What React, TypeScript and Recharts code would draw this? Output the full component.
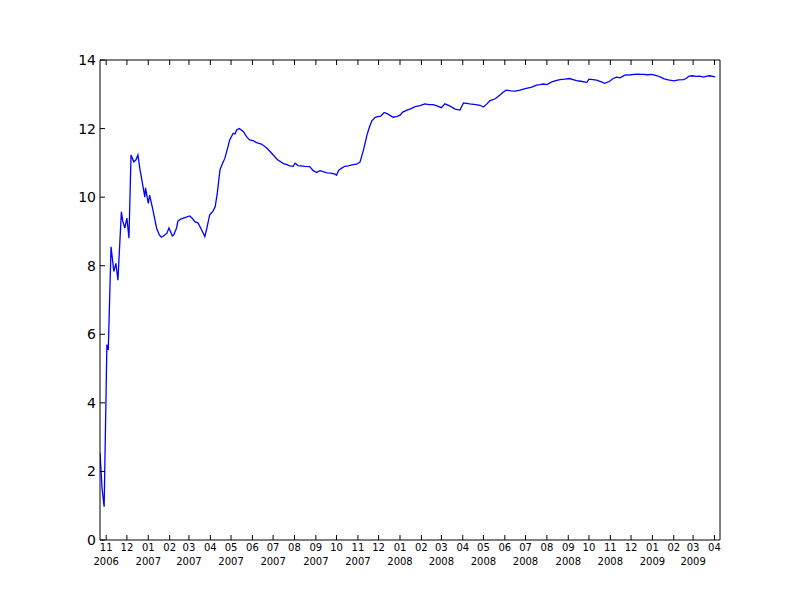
import React from "react";
import { LineChart, Line, XAxis, YAxis } from "recharts";

// day offsets counted from START_DATE, with the value read for that day
const START_DATE = "2006-10-23";
const END_DAY = 899;

const days = [
  0, 3, 6, 10, 12, 16, 18, 20, 23, 26, 31, 33, 36, 39, 41, 42, 45, 49, 52, 55,
  58, 62, 65, 66, 70, 72, 77, 82, 86, 89, 93, 97, 100, 105, 107, 111, 113, 117,
  123, 130, 133, 138, 142, 146, 152, 155, 159, 164, 167, 170, 174, 178, 181,
  186, 188, 193, 196, 198, 202, 208, 213, 217, 222, 227, 234, 241, 249, 257,
  266, 271, 275, 280, 283, 287, 292, 297, 304, 309, 314, 319, 329, 335, 341,
  343, 346, 350, 355, 360, 367, 372, 377, 382, 387, 390, 394, 399, 403, 407,
  412, 417, 425, 430, 435, 439, 445, 451, 457, 464, 471, 477, 483, 488, 495,
  500, 507, 515, 522, 527, 536, 545, 551, 556, 561, 565, 573, 580, 584, 589,
  596, 602, 609, 618, 625, 633, 638, 643, 648, 655, 661, 667, 674, 681, 686,
  691, 697, 706, 709, 715, 720, 726, 732, 739, 744, 749, 754, 761, 770, 778,
  787, 794, 800, 808, 813, 818, 824, 832, 839, 846, 850, 854, 859, 865, 870,
  875, 880, 884, 892,
];

const values = [
  2.55, 1.5, 0.97, 5.7, 5.54, 8.55, 8.2, 7.83, 8.07, 7.58, 9.57, 9.3, 9.1,
  9.39, 9.0, 8.8, 11.23, 11.03, 11.08, 11.23, 10.8, 10.35, 10.0, 10.27, 9.82,
  10.06, 9.6, 9.1, 8.9, 8.83, 8.88, 8.95, 9.1, 8.87, 8.9, 9.1, 9.3, 9.36, 9.4,
  9.45, 9.4, 9.28, 9.25, 9.1, 8.85, 9.1, 9.48, 9.6, 9.72, 10.1, 10.8, 11.0,
  11.13, 11.5, 11.67, 11.86, 11.85, 11.96, 12.0, 11.91, 11.75, 11.67, 11.65,
  11.59, 11.55, 11.45, 11.28, 11.1, 10.98, 10.95, 10.91, 10.9, 10.99, 10.92,
  10.91, 10.9, 10.89, 10.78, 10.72, 10.77, 10.71, 10.7, 10.67, 10.64, 10.78,
  10.84, 10.9, 10.91, 10.95, 10.96, 11.02, 11.37, 11.8, 12.0, 12.22, 12.33,
  12.35, 12.36, 12.47, 12.43, 12.33, 12.35, 12.39, 12.48, 12.54, 12.58, 12.64,
  12.67, 12.72, 12.7, 12.7, 12.67, 12.61, 12.72, 12.66, 12.57, 12.54, 12.75,
  12.72, 12.7, 12.68, 12.63, 12.72, 12.81, 12.87, 12.98, 13.05, 13.12, 13.1,
  13.09, 13.12, 13.17, 13.2, 13.27, 13.28, 13.3, 13.28, 13.36, 13.4, 13.43,
  13.44, 13.46, 13.43, 13.4, 13.38, 13.35, 13.44, 13.43, 13.41, 13.37, 13.32,
  13.38, 13.46, 13.5, 13.48, 13.56, 13.57, 13.59, 13.58, 13.57, 13.58, 13.54,
  13.5, 13.45, 13.42, 13.39, 13.42, 13.43, 13.46, 13.53, 13.54, 13.52, 13.53,
  13.5, 13.53, 13.54, 13.51,
];

const tickMonths = [
  "2006-11", "2006-12", "2007-01", "2007-02", "2007-03", "2007-04", "2007-05",
  "2007-06", "2007-07", "2007-08", "2007-09", "2007-10", "2007-11", "2007-12",
  "2008-01", "2008-02", "2008-03", "2008-04", "2008-05", "2008-06", "2008-07",
  "2008-08", "2008-09", "2008-10", "2008-11", "2008-12", "2009-01", "2009-02",
  "2009-03", "2009-04",
];

const yTicks = [0, 2, 4, 6, 8, 10, 12, 14];

const DAY = 86400000;
const START = Date.parse(START_DATE + "T00:00:00Z");
const FONT = "DejaVu Sans, sans-serif";
const TICK = 5;

const data = days.map((d, i) => ({ day: d, value: values[i] }));
const xTicks = tickMonths.map((m) => (Date.parse(m + "-01T00:00:00Z") - START) / DAY);

// bottom axis: inward tick mark, month and (odd months) year below
function MonthTick(props: any) {
  const { x, y, payload } = props;
  const date = new Date(START + payload.value * DAY);
  const month = date.getUTCMonth() + 1;
  const label = month < 10 ? "0" + month : String(month);
  return (
    <g>
      <line x1={x} x2={x} y1={y} y2={y - TICK} stroke="#000" />
      <text x={x} y={y + 11} textAnchor="middle" fontSize={10} fontFamily={FONT} fill="#000">
        <tspan x={x}>{label}</tspan>
        {month % 2 === 1 && (
          <tspan x={x} dy={14}>
            {date.getUTCFullYear()}
          </tspan>
        )}
      </text>
    </g>
  );
}

const TopTick = ({ x, y }: any) => <line x1={x} x2={x} y1={y} y2={y + TICK} stroke="#000" />;

function LeftTick(props: any) {
  const { x, y, payload } = props;
  return (
    <g>
      <line x1={x} x2={x + TICK} y1={y} y2={y} stroke="#000" />
      <text x={x - 4} y={y} dy="0.36em" textAnchor="end" fontSize={14} fontFamily={FONT} fill="#000">
        {payload.value}
      </text>
    </g>
  );
}

const RightTick = ({ x, y }: any) => <line x1={x} x2={x - TICK} y1={y} y2={y} stroke="#000" />;

export default function App() {
  return (
    <div style={{ position: "absolute", left: 0, top: 0, width: 800, height: 600, background: "#fff" }}>
      <LineChart width={800} height={600} data={data} margin={{ top: 59, right: 79, bottom: 30, left: 60 }}>
        <XAxis
          dataKey="day"
          type="number"
          domain={[0, END_DAY]}
          allowDataOverflow
          ticks={xTicks}
          interval={0}
          height={30}
          tickSize={0}
          tickMargin={0}
          tickLine={false}
          tick={MonthTick}
          axisLine={{ stroke: "#000" }}
        />
        <XAxis
          xAxisId="top"
          orientation="top"
          dataKey="day"
          type="number"
          domain={[0, END_DAY]}
          allowDataOverflow
          ticks={xTicks}
          interval={0}
          height={1}
          tickSize={0}
          tickMargin={0}
          tickLine={false}
          tick={TopTick}
          axisLine={{ stroke: "#000" }}
        />
        <YAxis
          type="number"
          domain={[0, 14]}
          ticks={yTicks}
          interval={0}
          width={40}
          tickSize={0}
          tickMargin={0}
          tickLine={false}
          tick={LeftTick}
          axisLine={{ stroke: "#000" }}
        />
        <YAxis
          yAxisId="right"
          orientation="right"
          type="number"
          domain={[0, 14]}
          ticks={yTicks}
          interval={0}
          width={1}
          tickSize={0}
          tickMargin={0}
          tickLine={false}
          tick={RightTick}
          axisLine={{ stroke: "#000" }}
        />
        <Line
          type="linear"
          dataKey="value"
          stroke="#0000ff"
          strokeWidth={1.3}
          dot={false}
          isAnimationActive={false}
        />
      </LineChart>
    </div>
  );
}
